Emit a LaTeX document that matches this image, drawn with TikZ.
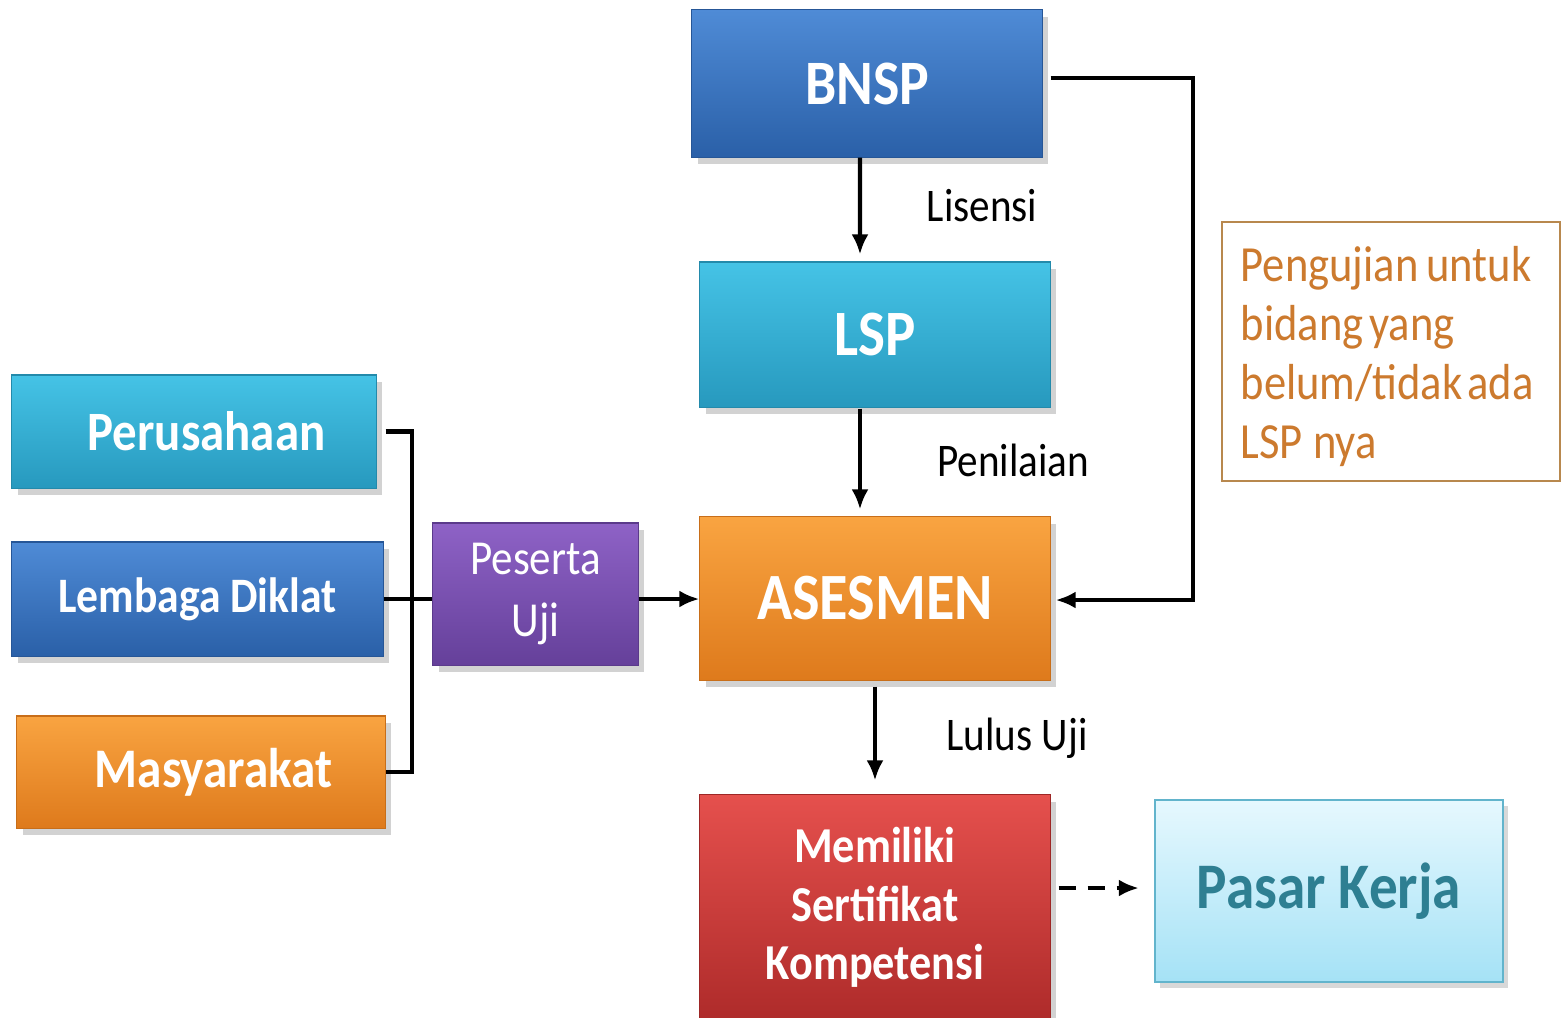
\documentclass[tikz,border=0pt]{standalone}
\usepackage{fontspec}
\setmainfont[FakeStretch=0.88]{Carlito}
\usetikzlibrary{arrows.meta,shadows}
\definecolor{bluetop}{HTML}{4F8BD6}
\definecolor{bluebot}{HTML}{2A60A8}
\definecolor{cyantop}{HTML}{45C3E6}
\definecolor{cyanbot}{HTML}{2799BE}
\definecolor{orgtop}{HTML}{F9A441}
\definecolor{orgbot}{HTML}{DE7A1C}
\definecolor{purtop}{HTML}{8E62C6}
\definecolor{purbot}{HTML}{65409A}
\definecolor{redtop}{HTML}{E5504D}
\definecolor{redbot}{HTML}{AE2B2A}
\definecolor{paletop}{HTML}{E6F8FE}
\definecolor{palebot}{HTML}{A5E2F6}
\definecolor{paleedge}{HTML}{62B4CC}
\definecolor{tealtext}{HTML}{2E7F92}
\definecolor{notetext}{HTML}{CC7A2E}
\definecolor{noteedge}{HTML}{B8884E}
\tikzset{
  box/.style={rectangle, text=white, font=\bfseries, align=center, inner sep=0pt,
    drop shadow={opacity=0.35, shadow xshift=0.06cm, shadow yshift=-0.07cm}},
  bluebox/.style={box, top color=bluetop, bottom color=bluebot, draw=bluebot!90!black, line width=0.3pt},
  cyanbox/.style={box, top color=cyantop, bottom color=cyanbot, draw=cyanbot!90!black, line width=0.3pt},
  orgbox/.style={box, top color=orgtop, bottom color=orgbot, draw=orgbot!90!black, line width=0.3pt},
  purbox/.style={box, top color=purtop, bottom color=purbot, draw=purbot!90!black, line width=0.3pt},
  redbox/.style={box, top color=redtop, bottom color=redbot, draw=redbot!90!black, line width=0.3pt},
  palebox/.style={rectangle, top color=paletop, bottom color=palebot, draw=paleedge, line width=0.6pt,
    text=tealtext, font=\bfseries, align=center,
    drop shadow={opacity=0.3, shadow xshift=0.05cm, shadow yshift=-0.06cm}},
  conn/.style={line width=1.15pt, black},
  arr/.style={conn, -{Latex[length=0.2cm, width=0.17cm]}},
  lbl/.style={font=\fontsize{13.3}{16}\selectfont, text=black, inner sep=0pt},
}
\begin{document}
\begin{tikzpicture}[x=0.01cm, y=-0.01cm]
\useasboundingbox[fill=white] (0,0) rectangle (1564,1017);

% main column
\node[bluebox, minimum width=3.50cm, minimum height=1.47cm, font=\bfseries\fontsize{18}{22}\selectfont] (bnsp) at (867,83.5) {BNSP};
\node[cyanbox, minimum width=3.50cm, minimum height=1.45cm, font=\bfseries\fontsize{18.4}{22}\selectfont] (lsp) at (875,334.5) {LSP};
\node[orgbox, minimum width=3.50cm, minimum height=1.63cm, font=\bfseries\fontsize{18.8}{21}\selectfont] (ases) at (875,598.5) {ASESMEN};
\node[redbox, minimum width=3.50cm, minimum height=2.25cm, font=\bfseries\fontsize{14.3}{16.7}\selectfont] (mem) at (875,907.5) {Memiliki\\Sertifikat\\Kompetensi};
\node[palebox, minimum width=3.48cm, minimum height=1.82cm, font=\bfseries\fontsize{18.5}{22}\selectfont] (pasar) at (1329,891) {Pasar Kerja};

% left column
\node[cyanbox, minimum width=3.64cm, minimum height=1.13cm, font=\bfseries\fontsize{15.8}{18}\selectfont] (perus) at (194,431.5) {\hspace{0.25cm}Perusahaan};
\node[bluebox, minimum width=3.71cm, minimum height=1.14cm, font=\bfseries\fontsize{14.1}{17}\selectfont] (lemb) at (197.5,599) {Lembaga Diklat};
\node[orgbox, minimum width=3.68cm, minimum height=1.12cm, font=\bfseries\fontsize{15.9}{19}\selectfont] (masy) at (201,772) {\hspace{0.25cm}Masyarakat};
\node[purbox, minimum width=2.05cm, minimum height=1.42cm, font=\fontsize{13.9}{17.5}\selectfont] (pes) at (535.5,594) {Peserta\\Uji};

% note
\node[draw=noteedge, line width=0.5pt, inner sep=0pt,
  minimum width=3.38cm, minimum height=2.59cm] (note) at (1391,351.5) {};
\node[text=notetext, align=left, inner sep=0pt, anchor=north west,
  font=\fontsize{14.4}{16.7}\selectfont] (notetxt) at (1240,246)
  {Pengujian\hspace{0.08cm}untuk\\bidang\hspace{0.06cm}yang\\belum/tidak\hspace{0.05cm}ada\\LSP nya};

% labels
\node[lbl] (lis) at (982,206) {Lisensi};
\node[lbl] (pen) at (1013,460) {Penilaian};
\node[lbl] (lul) at (1017,738) {Lulus Uji};

% vertical connectors
\draw[arr] ([xshift=-0.07cm]bnsp.south) -- ([xshift=-0.15cm, yshift=0.07cm]lsp.north);
\draw[arr] ([xshift=-0.15cm, yshift=-0.01cm]lsp.south) -- ([xshift=-0.15cm, yshift=0.07cm]ases.north);
\draw[arr] ([yshift=-0.06cm]ases.south) -- ([yshift=0.14cm]mem.north);

% BNSP loop to ASESMEN
\coordinate (rt) at (1193,78);
\coordinate (bnspout) at (bnsp.east |- rt);
\draw[arr] ([xshift=0.08cm]bnspout) -- (rt) |- ([xshift=0.05cm, yshift=-0.015cm]ases.east);

% left bus
\coordinate (bus) at (412,0);
\draw[conn] ([xshift=0.09cm]perus.east) -- (perus.east -| bus) -- (masy.east -| bus) -- (masy.east);
\draw[conn] (lemb.east) -- (lemb.east -| pes.west);
\coordinate (pesout) at (pes.east |- lemb.east);
\draw[arr] (pesout) -- (pesout -| ases.west);

% dashed to Pasar Kerja
\coordinate (dm) at (mem.east |- 0,888);
\draw[arr, dash pattern=on 0.17cm off 0.12cm] ([xshift=0.08cm]dm) -- ([xshift=-0.15cm]dm -| pasar.west);
\end{tikzpicture}
\end{document}
